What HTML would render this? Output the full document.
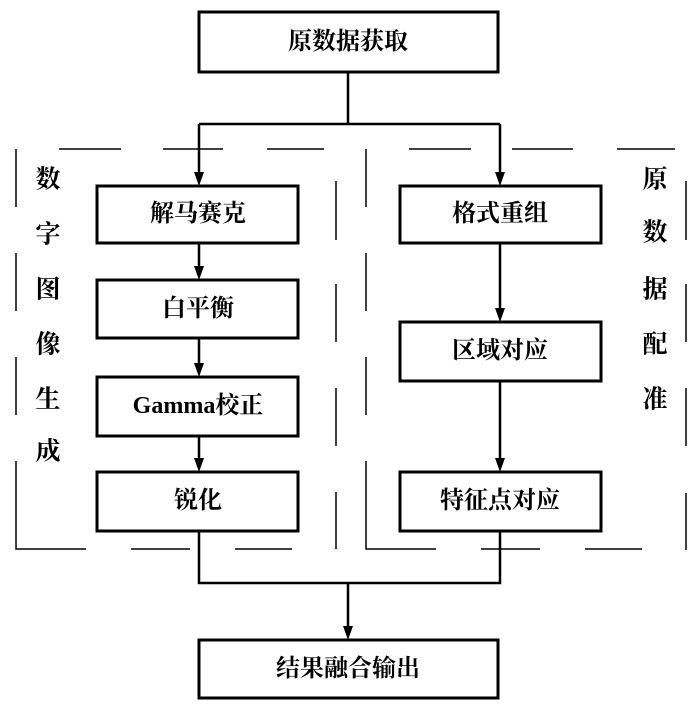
<!DOCTYPE html>
<html><head><meta charset="utf-8"><style>
body{margin:0;background:#fff;}
svg{display:block;}
text{font-family:"Liberation Serif","Noto Serif CJK SC",serif;font-weight:bold;fill:#000;}
</style></head><body>
<svg width="700" height="717" viewBox="0 0 700 717" xmlns="http://www.w3.org/2000/svg">
<defs><marker id="a" markerWidth="10" markerHeight="14" refX="5" refY="14" orient="auto" markerUnits="userSpaceOnUse"><path d="M0,0 L10,0 L5,14 Z" transform="rotate(-90 5 7) translate(0,0)"/></marker></defs>
<g stroke="#000" stroke-width="1.5" fill="none">
<!-- left dashed box -->
<path d="M16,149V207M16,253V311M16,357V415M16,461V549H86M131,549H190M235,549H292"/>
<path d="M59,149H121M163,149H223M267,149H324"/>
<path d="M336,181V240M336,284V342M336,388V446M336,492V549"/>
<!-- right dashed box -->
<path d="M366,149V207M366,253V311M366,357V415M366,461V549H436M481,549H540M585,549H642"/>
<path d="M409,149H471M512,149H573M617,149H675"/>
<path d="M686,181V240M686,284V342M686,388V446M686,493V550"/>
</g>
<g stroke="#000" stroke-width="3" fill="#fff">
<rect x="199" y="12" width="299" height="60"/>
<rect x="97" y="186" width="201" height="57"/>
<rect x="97" y="280" width="201" height="58"/>
<rect x="97" y="377" width="201" height="59"/>
<rect x="97" y="472" width="201" height="59"/>
<rect x="400" y="186" width="201" height="57"/>
<rect x="400" y="322" width="201" height="59"/>
<rect x="400" y="472" width="201" height="59"/>
<rect x="199" y="640" width="299" height="58"/>
</g>
<g stroke="#000" stroke-width="2.5" fill="none">
<path d="M348,72V124M199,124H500M199,124V174M500,124V174"/>
<path d="M199,243V268M199,338V365M199,436V460"/>
<path d="M500,243V310M500,381V460"/>
<path d="M199,531V583H500V531M348,583V628"/>
</g>
<g fill="#000">
<path d="M194,172h10l-5,14z"/><path d="M495,172h10l-5,14z"/>
<path d="M194,266h10l-5,14z"/><path d="M194,363h10l-5,14z"/><path d="M194,458h10l-5,14z"/>
<path d="M495,308h10l-5,14z"/><path d="M495,458h10l-5,14z"/>
<path d="M343,626h10l-5,14z"/>
</g>
<g font-size="24" text-anchor="middle" dominant-baseline="central">
<text x="348" y="42">原数据获取</text>
<text x="198" y="214">解马赛克</text>
<text x="198" y="309">白平衡</text>
<text x="198" y="406">Gamma校正</text>
<text x="198" y="501">锐化</text>
<text x="500" y="214">格式重组</text>
<text x="500" y="351">区域对应</text>
<text x="500" y="501">特征点对应</text>
<text x="348" y="669">结果融合输出</text>
</g>
<g font-size="25" text-anchor="middle" dominant-baseline="central">
<text x="48" y="180">数</text><text x="48" y="235">字</text><text x="48" y="290">图</text>
<text x="48" y="345">像</text><text x="48" y="400">生</text><text x="48" y="452">成</text>
<text x="655" y="180">原</text><text x="655" y="233">数</text><text x="655" y="290">据</text>
<text x="655" y="345">配</text><text x="655" y="400">准</text>
</g>
</svg>
</body></html>
